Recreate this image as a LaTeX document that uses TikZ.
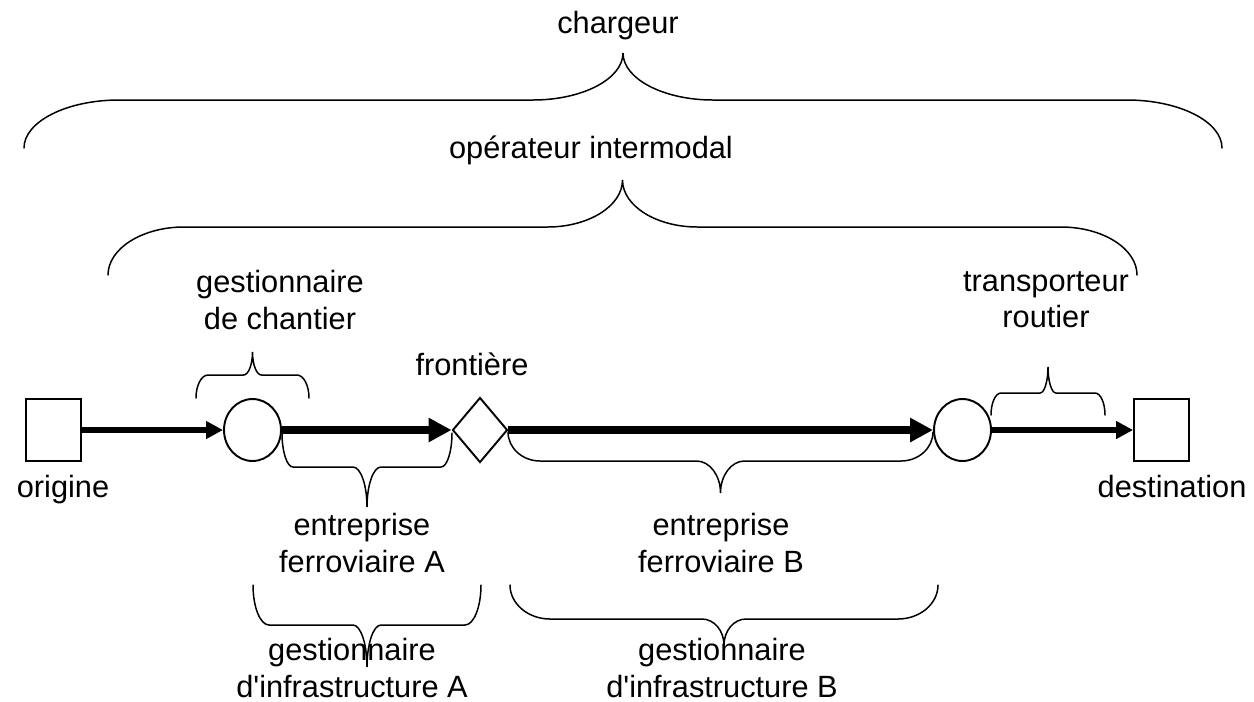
\documentclass[tikz,border=0pt]{standalone}
\usepackage{fontspec}
\setmainfont{Liberation Sans}
\usetikzlibrary{arrows.meta, shapes.geometric}

\tikzset{
  trait/.style={line width=0.85pt, line cap=round},
  terminal/.style={draw, line width=1.1pt, minimum width=1.1cm, minimum height=1.24cm, inner sep=0pt},
  chantier/.style={ellipse, draw, line width=1.1pt, minimum width=1.14cm, minimum height=1.24cm, inner sep=0pt},
  passage/.style={diamond, draw, line width=1.1pt, minimum width=1.1cm, minimum height=1.3cm, inner sep=0pt},
  flecheFine/.style={line width=3pt, -{Triangle[length=0.34cm, width=0.34cm]}},
  flecheEpaisse/.style={line width=4.8pt, -{Triangle[length=0.46cm, width=0.46cm]}},
  etiquette/.style={align=center, inner sep=0pt}
}

% accolade : x gauche, x droit, y des bouts, y de la barre, y de la pointe, largeur des bouts, largeur du milieu
\newcommand{\accolade}[7]{%
  \draw[trait] (#1,#3)
    .. controls (#1,{#3+0.55*(#4-#3)}) and ({#1+0.45*#6},#4) .. ({#1+#6},#4)
    -- ({(#1+#2)/2-#7},#4)
    .. controls ({(#1+#2)/2-0.45*#7},#4) and ({(#1+#2)/2},{#5+0.55*(#4-#5)}) .. ({(#1+#2)/2},#5)
    .. controls ({(#1+#2)/2},{#5+0.55*(#4-#5)}) and ({(#1+#2)/2+0.45*#7},#4) .. ({(#1+#2)/2+#7},#4)
    -- ({#2-#6},#4)
    .. controls ({#2-0.45*#6},#4) and (#2,{#3+0.55*(#4-#3)}) .. (#2,#3);}

\begin{document}
\begin{tikzpicture}[x=0.02cm, y=-0.02cm, font=\fontsize{17.5}{20.5}\selectfont]
  \useasboundingbox (0,0) rectangle (1254,701);

  % chaine de transport
  \node[terminal] (origine) at (53.5,430) {};
  \node[chantier] (chantierA) at (252.5,430) {};
  \node[passage] (frontiere) at (480,430) {};
  \node[chantier] (chantierB) at (962.5,430) {};
  \node[terminal] (destination) at (1161.5,430) {};

  \draw[flecheFine] (origine) -- (chantierA);
  \draw[flecheEpaisse] (chantierA) -- (frontiere);
  \draw[flecheEpaisse] (frontiere) -- (chantierB);
  \draw[flecheFine] (chantierB) -- (destination);

  % textes
  \node[etiquette, anchor=base] (lblOrigine) at (63,497) {origine};
  \node[etiquette, anchor=base] (lblDestination) at (1172,497) {destination};
  \node[etiquette, anchor=base] (lblFrontiere) at (472,375) {frontière};
  \node[etiquette, anchor=base] (lblChargeur) at (618,33) {chargeur};
  \node[etiquette, anchor=base] (lblOperateur) at (591,158) {opérateur intermodal};
  \node[etiquette] (lblChantier) at (280,300) {gestionnaire\\de chantier};
  \node[etiquette] (lblRoutier) at (1046,300) {transporteur\\routier};
  \node[etiquette] (lblEfA) at (362,543) {entreprise\\ferroviaire A};
  \node[etiquette] (lblEfB) at (721,543) {entreprise\\ferroviaire B};
  \node[etiquette] (lblGiA) at (352,668) {gestionnaire\\d\textquotesingle infrastructure A};
  \node[etiquette] (lblGiB) at (722,668) {gestionnaire\\d\textquotesingle infrastructure B};

  % accolades du haut
  \accolade{24}{1222}{148}{100}{53}{95}{90}
  \accolade{108}{1137}{275}{227}{180}{76}{75}
  \accolade{196}{309}{398}{375}{352}{12}{9}
  \accolade{991}{1105}{415}{393}{367}{10}{8}
  % accolades du bas
  \accolade{282}{452}{433}{467}{507}{11}{14}
  \accolade{508}{933}{432}{461}{493}{32}{24}
  \accolade{253}{481}{585}{625}{667}{16}{14}
  \accolade{510}{938}{585}{619}{645}{40}{22}
\end{tikzpicture}
\end{document}
